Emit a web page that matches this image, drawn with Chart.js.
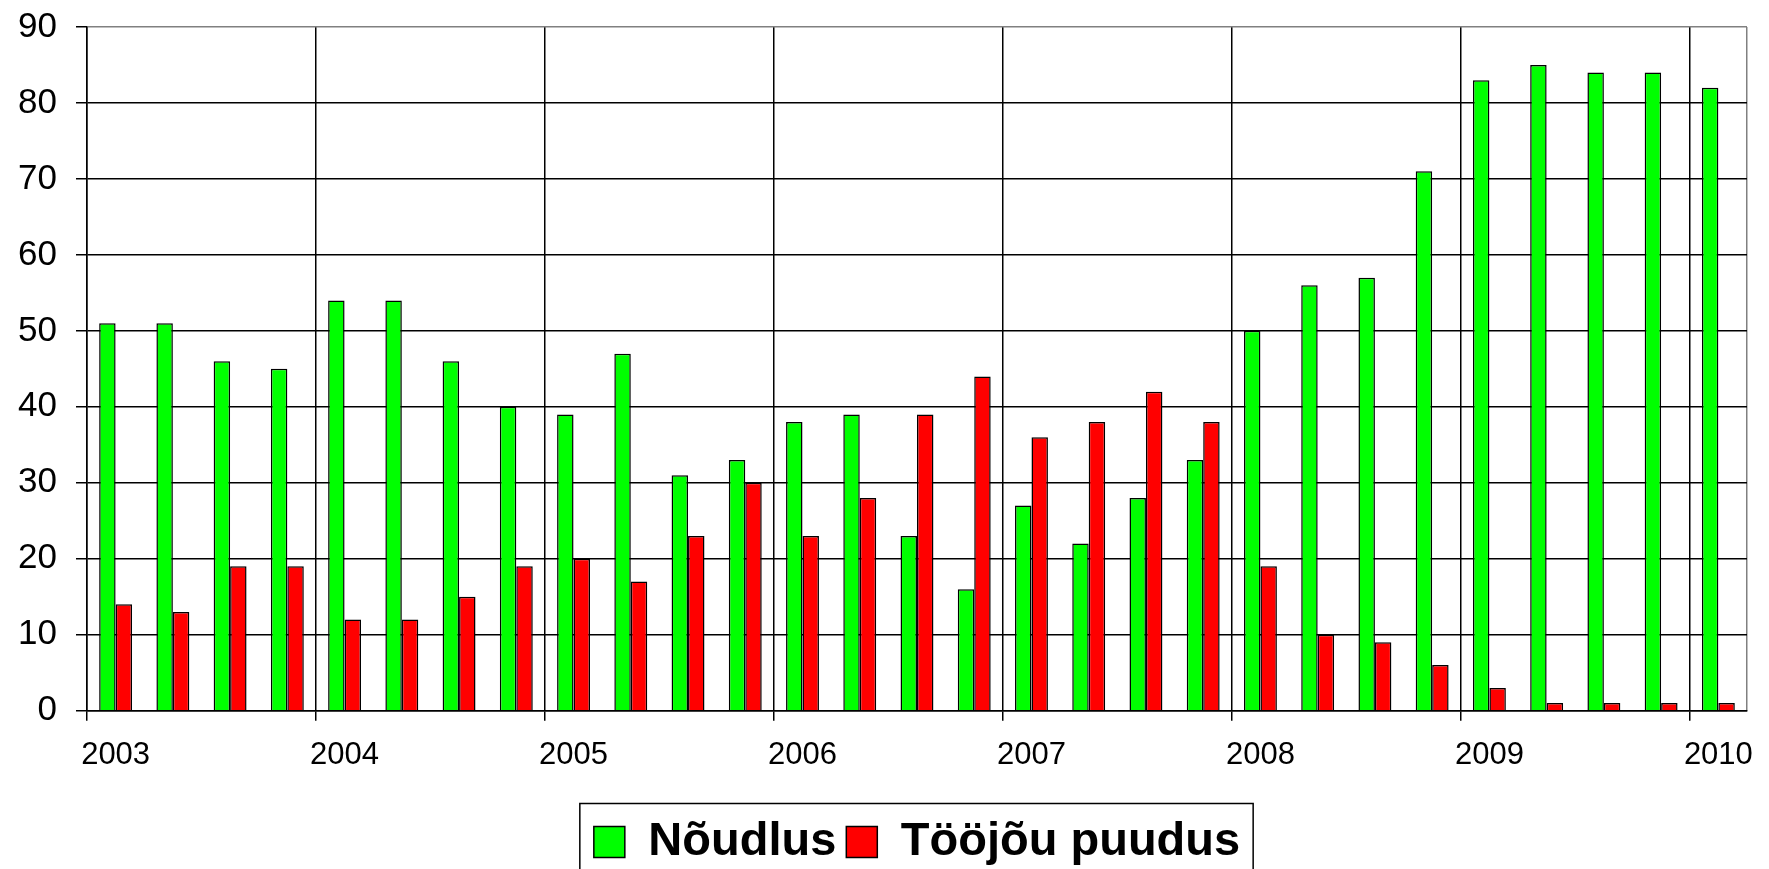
<!DOCTYPE html>
<html>
<head>
<meta charset="utf-8">
<script src="https://cdn.jsdelivr.net/npm/chart.js@4/dist/chart.umd.min.js"></script>
<style>
  html, body { margin: 0; padding: 0; background: #fff; }
  #wrap { width: 1769px; height: 869px; }
</style>
</head>
<body>
<div id="wrap"><canvas id="c" width="1769" height="869"></canvas></div>
<script>
// ---- data ----
const years = ['2003', '2004', '2005', '2006', '2007', '2008', '2009', '2010'];
const quarters = ['I', 'II', 'III', 'IV'];
const categories = [];
years.forEach(y => quarters.forEach(q => categories.push(y + ' ' + q)));
categories.length = 29; // 2003 I ... 2010 I

const seriesNames = ['Nõudlus', 'Tööjõu puudus'];
const noudlus = [51, 51, 46, 45, 54, 54, 46, 40, 39, 47, 31, 33, 38, 39, 23, 16,
                 27, 22, 28, 33, 50, 56, 57, 71, 83, 85, 84, 84, 82];
const toojouPuudus = [14, 13, 19, 19, 12, 12, 15, 19, 20, 17, 23, 30, 23, 28, 39, 44,
                      36, 38, 42, 38, 19, 10, 9, 6, 3, 1, 1, 1, 1];
const yTicks = [0, 10, 20, 30, 40, 50, 60, 70, 80, 90];

const FONT = "'Liberation Sans', Arial, sans-serif";

const legendBorder = {
  id: 'legendBorder',
  afterDraw(chart) {
    const lg = chart.legend;
    if (!lg || !lg.legendHitBoxes || !lg.legendHitBoxes.length) return;
    const hb = lg.legendHitBoxes;
    const first = hb[0], last = hb[hb.length - 1];
    const left = first.left - 14;
    const right = last.left + last.width + 13;
    const top = first.top - 15;
    const ctx = chart.ctx;
    ctx.save();
    ctx.strokeStyle = '#000';
    ctx.lineWidth = 1.5;
    ctx.strokeRect(left, top, right - left, chart.height + 20 - top);
    ctx.restore();
  }
};

new Chart(document.getElementById('c'), {
  type: 'bar',
  data: {
    labels: categories,
    datasets: [
      { label: seriesNames[0], data: noudlus, backgroundColor: '#00FF00', borderColor: '#000', borderWidth: 1.5 },
      { label: seriesNames[1], data: toojouPuudus, backgroundColor: '#FF0000', borderColor: '#000', borderWidth: 1.5 }
    ]
  },
  options: {
    responsive: false,
    animation: false,
    devicePixelRatio: 1,
    layout: { padding: { top: 27, left: 0, right: 9, bottom: -6.5 } },
    datasets: { bar: { categoryPercentage: 0.575, barPercentage: 1.0 } },
    plugins: {
      tooltip: { enabled: false },
      legend: {
        position: 'bottom',
        fullSize: false,
        labels: {
          boxWidth: 31, boxHeight: 31, padding: 10,
          color: '#000',
          font: { family: FONT, size: 47, weight: 'bold' }
        }
      }
    },
    scales: {
      x: {
        offset: true,
        afterFit(scale) { scale.height = 97.8; },
        grid: {
          offset: true,
          lineWidth: 1.5,
          tickLength: 10,
          color(ctx) {
            if (ctx.index === undefined) return '#808080';
            return ctx.index % 4 === 0 ? '#000' : 'rgba(0,0,0,0)';
          },
          tickColor(ctx) {
            if (ctx.index === undefined) return 'rgba(0,0,0,0)';
            return ctx.index % 4 === 0 ? '#000' : 'rgba(0,0,0,0)';
          }
        },
        border: { display: true, color: '#000', width: 1.5 },
        ticks: {
          autoSkip: false, maxRotation: 0, minRotation: 0,
          padding: 16,
          color: '#000',
          font: { family: FONT, size: 31 },
          callback(value, index) {
            return index % 4 === 0 ? categories[index].split(' ')[0] : '';
          }
        }
      },
      y: {
        min: yTicks[0], max: yTicks[yTicks.length - 1],
        afterFit(scale) { scale.width = 87; scale.paddingTop = 0; scale.paddingBottom = 0; },
        afterBuildTicks(scale) { scale.ticks = yTicks.map(v => ({ value: v })); },
        grid: {
          lineWidth: 1.5,
          tickLength: 11,
          color(ctx) { return ctx.tick && ctx.tick.value === 90 ? '#808080' : '#000'; },
          tickColor: '#000'
        },
        border: { display: true, color: '#000', width: 1.5 },
        ticks: {
          padding: 19,
          color: '#000',
          font: { family: FONT, size: 35 }
        }
      }
    }
  },
  plugins: [legendBorder]
});
</script>
</body>
</html>
